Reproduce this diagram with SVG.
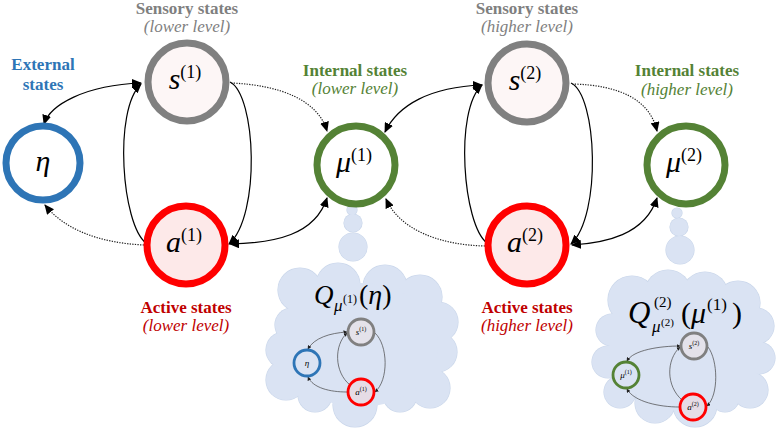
<svg xmlns="http://www.w3.org/2000/svg" width="777" height="431" viewBox="0 0 777 431" font-family="'Liberation Serif', 'Times New Roman', Tinos, 'DejaVu Serif', serif">
<style>
.lbl{font-size:17px;text-anchor:middle}
.b{font-weight:bold}
.i{font-style:italic}
.gray{fill:#7f7f7f}
.blue{fill:#2e75b6}
.green{fill:#548235}
.red{fill:#c00000}
.math{fill:#000}
.big{font-size:30px;text-anchor:middle}
.node{stroke-width:7}
.solid{fill:none;stroke:#000;stroke-width:1.2}
.dot{fill:none;stroke:#222;stroke-width:1.2;stroke-dasharray:1.3 1.3}
.mini{fill:none;stroke:#444;stroke-width:0.7}
.mnode{stroke-width:2.8}
.cloud{fill:#dae3f3}
.cloudedge{fill:#c9d6ea}
</style>
<defs>
<marker id="arr" markerUnits="userSpaceOnUse" markerWidth="10" markerHeight="9" refX="9" refY="4.5" orient="auto-start-reverse">
<path d="M0,0 L10,4.5 L0,9 z" fill="#000"/>
</marker>
<marker id="marr" markerUnits="userSpaceOnUse" markerWidth="4" markerHeight="4" refX="3.5" refY="2" orient="auto-start-reverse">
<path d="M0,0 L4,2 L0,4 z" fill="#222"/>
</marker>
</defs>
<rect width="777" height="431" fill="#fff"/>

<g id="cloud1">
<g class="cloudedge">
<circle cx="352" cy="210" r="5.6"/><circle cx="353" cy="223" r="9.6"/><circle cx="353" cy="247" r="14.6"/>
<circle cx="300" cy="290" r="22.6"/><circle cx="338" cy="285" r="22.6"/><circle cx="385" cy="287" r="22.6"/><circle cx="420" cy="297" r="22.6"/>
<circle cx="438" cy="322" r="20.6"/><circle cx="437" cy="352" r="20.6"/><circle cx="430" cy="388" r="20.6"/><circle cx="400" cy="395" r="17.6"/>
<circle cx="355" cy="405" r="22.6"/><circle cx="315" cy="395" r="17.6"/><circle cx="286" cy="380" r="20.6"/><circle cx="284" cy="350" r="18.6"/><circle cx="292" cy="325" r="17.6"/>
</g>
<g class="cloud">
<circle cx="352" cy="210" r="5"/><circle cx="353" cy="223" r="9"/><circle cx="353" cy="247" r="14"/>
<circle cx="300" cy="290" r="22"/><circle cx="338" cy="285" r="22"/><circle cx="385" cy="287" r="22"/><circle cx="420" cy="297" r="22"/>
<circle cx="438" cy="322" r="20"/><circle cx="437" cy="352" r="20"/><circle cx="430" cy="388" r="20"/><circle cx="400" cy="395" r="17"/>
<circle cx="355" cy="405" r="22"/><circle cx="315" cy="395" r="17"/><circle cx="286" cy="380" r="20"/><circle cx="284" cy="350" r="18"/><circle cx="292" cy="325" r="17"/>
<ellipse cx="360" cy="345" rx="78" ry="62"/>
</g>
<text class="math" x="314" y="304" font-size="27" font-style="italic">Q</text>
<text class="math" x="334" y="311" font-size="17" font-style="italic">μ</text>
<text class="math" x="343" y="303" font-size="12">(1)</text>
<text class="math" x="359" y="304" font-size="28">(<tspan font-style="italic">η</tspan>)</text>
</g>

<g id="cloud2">
<g class="cloudedge">
<circle cx="677" cy="213" r="5.6"/><circle cx="679" cy="227" r="9.6"/><circle cx="680" cy="250" r="14.6"/>
<circle cx="632" cy="300" r="24.6"/><circle cx="668" cy="293" r="23.6"/><circle cx="705" cy="295" r="23.6"/><circle cx="738" cy="303" r="22.6"/>
<circle cx="756" cy="326" r="18.6"/><circle cx="759" cy="358" r="16.6"/><circle cx="750" cy="390" r="18.6"/><circle cx="725" cy="398" r="14.6"/>
<circle cx="695" cy="405" r="22.6"/><circle cx="655" cy="403" r="20.6"/><circle cx="620" cy="392" r="16.6"/><circle cx="608" cy="362" r="16.6"/><circle cx="612" cy="330" r="16.6"/>
</g>
<g class="cloud">
<circle cx="677" cy="213" r="5"/><circle cx="679" cy="227" r="9"/><circle cx="680" cy="250" r="14"/>
<circle cx="632" cy="300" r="24"/><circle cx="668" cy="293" r="23"/><circle cx="705" cy="295" r="23"/><circle cx="738" cy="303" r="22"/>
<circle cx="756" cy="326" r="18"/><circle cx="759" cy="358" r="16"/><circle cx="750" cy="390" r="18"/><circle cx="725" cy="398" r="14"/>
<circle cx="695" cy="405" r="22"/><circle cx="655" cy="403" r="20"/><circle cx="620" cy="392" r="16"/><circle cx="608" cy="362" r="16"/><circle cx="612" cy="330" r="16"/>
<ellipse cx="685" cy="350" rx="76" ry="58"/>
</g>
<text class="math" x="628" y="323" font-size="31" font-style="italic">Q</text>
<text class="math" x="654" y="307" font-size="15">(2)</text>
<text class="math" x="652" y="332" font-size="17" font-style="italic">μ</text>
<text class="math" x="661" y="326" font-size="11">(2)</text>
<text class="math" x="681" y="323" font-size="30">(<tspan font-style="italic">μ</tspan></text>
<text class="math" x="707" y="310" font-size="17">(1)</text>
<text class="math" x="732" y="323" font-size="30">)</text>
</g>

<g id="mini1-connectors">
<path class="mini" d="M308,349 C314,338 330,333 347,332" marker-start="url(#marr)" marker-end="url(#marr)"/>
<path class="mini" d="M347,392 C330,392 313,388 308,377" marker-end="url(#marr)"/>
<path class="mini" d="M350,385 C334,372 334,345 347,333" marker-end="url(#marr)"/>
<path class="mini" d="M375,333 C388,345 389,380 375,392" marker-end="url(#marr)"/>
</g>
<g id="mini1-s"><circle class="mnode" cx="361" cy="332" r="13" fill="#e4e2ea" stroke="#808080"/><text class="math" x="361" y="335" font-size="9" text-anchor="middle"><tspan font-style="italic">s</tspan><tspan font-size="6" dy="-4">(1)</tspan></text></g>
<g id="mini1-eta"><circle class="mnode" cx="307" cy="363" r="13" fill="#dae3f3" stroke="#2e75b6"/><text class="math" x="307" y="366" font-size="9" text-anchor="middle" font-style="italic">η</text></g>
<g id="mini1-a"><circle class="mnode" cx="361" cy="392" r="13" fill="#e6dce5" stroke="#ff0000"/><text class="math" x="361" y="395" font-size="9" text-anchor="middle"><tspan font-style="italic">a</tspan><tspan font-size="6" dy="-4">(1)</tspan></text></g>

<g id="mini2-connectors">
<path class="mini" d="M627,361 C633,350 660,346 680,346" marker-start="url(#marr)" marker-end="url(#marr)"/>
<path class="mini" d="M679,407 C660,407 634,402 627,389" marker-end="url(#marr)"/>
<path class="mini" d="M682,400 C666,386 666,360 680,347" marker-end="url(#marr)"/>
<path class="mini" d="M708,347 C718,360 719,395 707,406" marker-end="url(#marr)"/>
</g>
<g id="mini2-s"><circle class="mnode" cx="694" cy="346" r="13" fill="#e4e2ea" stroke="#808080"/><text class="math" x="694" y="349" font-size="9" text-anchor="middle"><tspan font-style="italic">s</tspan><tspan font-size="6" dy="-4">(2)</tspan></text></g>
<g id="mini2-mu"><circle class="mnode" cx="626" cy="375" r="13" fill="#dae3f3" stroke="#548235"/><text class="math" x="626" y="378" font-size="9" text-anchor="middle"><tspan font-style="italic">μ</tspan><tspan font-size="6" dy="-4">(1)</tspan></text></g>
<g id="mini2-a"><circle class="mnode" cx="693" cy="407" r="13" fill="#e6dce5" stroke="#ff0000"/><text class="math" x="693" y="410" font-size="9" text-anchor="middle"><tspan font-style="italic">a</tspan><tspan font-size="6" dy="-4">(2)</tspan></text></g>

<g id="connectors">
<path class="solid" d="M44,124 C50,105 85,85 141,83" marker-start="url(#arr)" marker-end="url(#arr)"/>
<path class="dot" d="M144,245 C100,243 65,230 45,205" marker-end="url(#arr)"/>
<path class="solid" d="M146,243 C122,225 113,110 141,84" marker-end="url(#arr)"/>
<path class="solid" d="M230,82 C256,95 261,215 229,244" marker-end="url(#arr)"/>
<path class="dot" d="M231,83 C280,85 318,100 327,131" marker-end="url(#arr)"/>
<path class="solid" d="M327,198 C315,235 275,243 230,244" marker-start="url(#arr)" marker-end="url(#arr)"/>
<path class="solid" d="M385,132 C398,105 430,87 482,85" marker-start="url(#arr)" marker-end="url(#arr)"/>
<path class="solid" d="M487,243 C463,225 454,110 482,85" marker-end="url(#arr)"/>
<path class="dot" d="M485,246 C440,245 400,230 386,199" marker-end="url(#arr)"/>
<path class="solid" d="M571,83 C597,95 602,215 571,244" marker-end="url(#arr)"/>
<path class="dot" d="M572,84 C620,85 650,100 657,131" marker-end="url(#arr)"/>
<path class="solid" d="M657,198 C645,235 605,243 572,245" marker-start="url(#arr)" marker-end="url(#arr)"/>
</g>

<g id="node-eta">
<circle class="node" cx="43" cy="163" r="37" fill="#fff" stroke="#2e75b6"/>
<text class="math big" x="43" y="171" font-style="italic">η</text>
<text class="lbl b blue" x="43" y="70">External</text>
<text class="lbl b blue" x="43" y="90">states</text>
</g>
<g id="node-s1">
<circle class="node" cx="187" cy="82" r="39" fill="#fdf6f6" stroke="#808080"/>
<text class="math big" x="185" y="89"><tspan font-style="italic">s</tspan><tspan font-size="18" dy="-11">(1)</tspan></text>
<text class="lbl b gray" x="187" y="14">Sensory states</text>
<text class="lbl i gray" x="187" y="32">(lower level)</text>
</g>
<g id="node-a1">
<circle class="node" cx="186" cy="245" r="39" fill="#fde9e9" stroke="#ff0000"/>
<text class="math big" x="184" y="252"><tspan font-style="italic">a</tspan><tspan font-size="18" dy="-11">(1)</tspan></text>
<text class="lbl b red" x="186" y="313">Active states</text>
<text class="lbl i red" x="186" y="331">(lower level)</text>
</g>
<g id="node-mu1">
<circle class="node" cx="356" cy="165" r="39" fill="#fff" stroke="#548235"/>
<text class="math big" x="354" y="172"><tspan font-style="italic">μ</tspan><tspan font-size="18" dy="-11">(1)</tspan></text>
<text class="lbl b green" x="355" y="76">Internal states</text>
<text class="lbl i green" x="355" y="94">(lower level)</text>
</g>
<g id="node-s2">
<circle class="node" cx="527" cy="83" r="39" fill="#fdf6f6" stroke="#808080"/>
<text class="math big" x="525" y="90"><tspan font-style="italic">s</tspan><tspan font-size="18" dy="-11">(2)</tspan></text>
<text class="lbl b gray" x="527" y="14">Sensory states</text>
<text class="lbl i gray" x="527" y="32">(higher level)</text>
</g>
<g id="node-a2">
<circle class="node" cx="527" cy="245" r="39" fill="#fde9e9" stroke="#ff0000"/>
<text class="math big" x="525" y="252"><tspan font-style="italic">a</tspan><tspan font-size="18" dy="-11">(2)</tspan></text>
<text class="lbl b red" x="527" y="313">Active states</text>
<text class="lbl i red" x="527" y="331">(higher level)</text>
</g>
<g id="node-mu2">
<circle class="node" cx="686" cy="165" r="39" fill="#fff" stroke="#548235"/>
<text class="math big" x="684" y="172"><tspan font-style="italic">μ</tspan><tspan font-size="18" dy="-11">(2)</tspan></text>
<text class="lbl b green" x="687" y="76">Internal states</text>
<text class="lbl i green" x="687" y="95">(higher level)</text>
</g>
</svg>
